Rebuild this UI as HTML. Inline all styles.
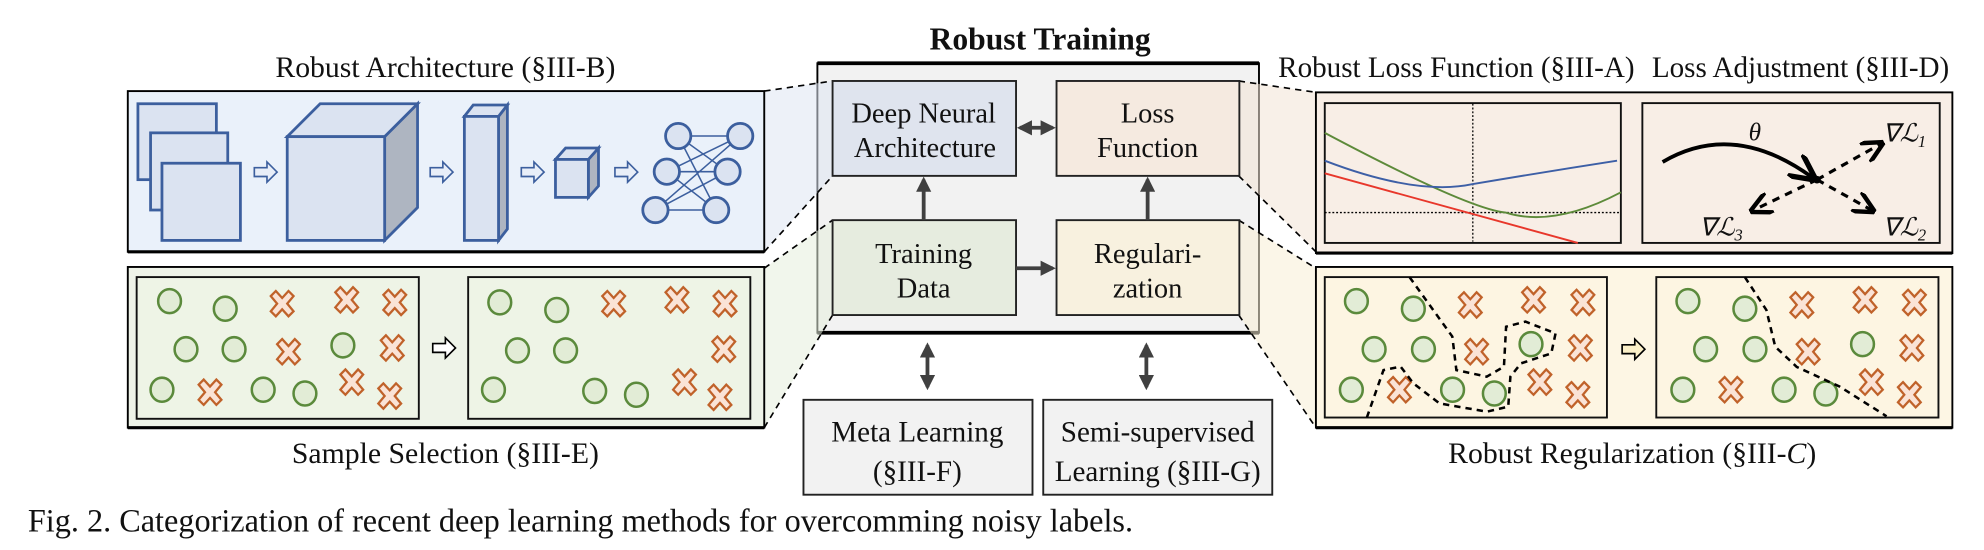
<!DOCTYPE html>
<html><head><meta charset="utf-8"><style>
html,body{margin:0;padding:0;background:#fff;}
svg{display:block;}
text{font-family:"Liberation Serif",serif;fill:#111;}
</style></head><body>
<svg width="1984" height="550" viewBox="0 0 1568 434.7" preserveAspectRatio="none" xmlns="http://www.w3.org/2000/svg">
<defs>
<path id="cr" d="M-9,-6 L-5,-10 L0,-4.5 L5,-10 L9,-6 L4,0 L9,6 L5,10 L0,4.5 L-5,10 L-9,6 L-4,0Z" fill="#fae3d6" stroke="#c0622a" stroke-width="1.8"/>
<ellipse id="ci" rx="9" ry="9.5" fill="#e2ecd6" stroke="#5b8a3c" stroke-width="2"/>
<path id="ar" d="M-9,-3.5 H1 V-8 L9,0 L1,8 V3.5 H-9Z" stroke-width="1.3"/>
<marker id="mh" viewBox="0 0 10 10" refX="8" refY="5" markerWidth="4" markerHeight="4" orient="auto-start-reverse"><path d="M0,0 L10,5 L0,10Z" fill="#404040"/></marker>
<marker id="mk" viewBox="0 0 10 10" refX="8" refY="5" markerWidth="7" markerHeight="7" orient="auto"><path d="M0,0 L10,5 L0,10" fill="none" stroke="#000" stroke-width="2"/></marker>
</defs>

<rect x="646" y="50" width="349" height="213" fill="#f2f2f2" stroke="#000" stroke-width="1.5"/>
<line x1="646" y1="50" x2="995" y2="50" stroke="#000" stroke-width="3"/>
<line x1="646" y1="263" x2="995" y2="263" stroke="#000" stroke-width="3"/>

<polygon points="604,72 658,64 658,139 604,199" fill="#dfe6f3" opacity="0.55"/>
<polygon points="604,212 658,174 658,249 604,338" fill="#e6eedd" opacity="0.55"/>
<polygon points="979,64 1040,73 1040,199 979,139" fill="#f3e3d6" opacity="0.55"/>
<polygon points="979,174 1040,212 1040,338 979,249" fill="#f8efd6" opacity="0.55"/>
<g stroke="#000" stroke-width="1.3" stroke-dasharray="5,4" fill="none">
<line x1="604" y1="72" x2="658" y2="64"/><line x1="604" y1="199" x2="658" y2="139"/>
<line x1="604" y1="212" x2="658" y2="174"/><line x1="604" y1="338" x2="658" y2="249"/>
<line x1="979" y1="64" x2="1040" y2="73"/><line x1="979" y1="139" x2="1040" y2="199"/>
<line x1="979" y1="174" x2="1040" y2="212"/><line x1="979" y1="249" x2="1040" y2="338"/>
</g>

<text x="822" y="39" font-size="25" font-weight="bold" text-anchor="middle">Robust Training</text>

<rect x="658" y="64" width="145" height="75" fill="#dfe4ee" stroke="#222" stroke-width="1.5"/>
<rect x="835" y="64" width="144.5" height="75" fill="#f5eae0" stroke="#222" stroke-width="1.5"/>
<rect x="658" y="174" width="145" height="75" fill="#e6ecdf" stroke="#222" stroke-width="1.5"/>
<rect x="835" y="174" width="144.5" height="75" fill="#f8f1df" stroke="#222" stroke-width="1.5"/>
<g font-size="22.5" text-anchor="middle">
<text x="730" y="97">Deep Neural</text><text x="731" y="124">Architecture</text>
<text x="907" y="97">Loss</text><text x="907" y="124">Function</text>
<text x="730" y="208">Training</text><text x="730" y="235">Data</text>
<text x="907" y="208">Regulari-</text><text x="907" y="235">zation</text>
</g>
<g stroke="#404040" stroke-width="3" fill="none">
<line x1="806" y1="101" x2="832" y2="101" marker-start="url(#mh)" marker-end="url(#mh)"/>
<line x1="730" y1="174" x2="730" y2="142" marker-end="url(#mh)"/>
<line x1="907" y1="174" x2="907" y2="142" marker-end="url(#mh)"/>
<line x1="803" y1="212" x2="832" y2="212" marker-end="url(#mh)"/>
<line x1="733" y1="273" x2="733" y2="306" marker-start="url(#mh)" marker-end="url(#mh)"/>
<line x1="906" y1="273" x2="906" y2="306" marker-start="url(#mh)" marker-end="url(#mh)"/>
</g>

<rect x="635" y="316" width="181" height="75" fill="#f2f2f2" stroke="#222" stroke-width="1.5"/>
<rect x="824.5" y="316" width="181" height="75" fill="#f2f2f2" stroke="#222" stroke-width="1.5"/>
<g font-size="23" text-anchor="middle">
<text x="725" y="349">Meta Learning</text><text x="725" y="380">(§III-F)</text>
<text x="915" y="349">Semi-supervised</text><text x="915" y="380">Learning (§III-G)</text>
</g>

<text x="352" y="61" font-size="23.5" text-anchor="middle">Robust Architecture (§III-B)</text>
<rect x="101" y="72" width="503" height="127" fill="#eaf1fa" stroke="#000" stroke-width="1.5"/>
<line x1="101" y1="199" x2="604" y2="199" stroke="#000" stroke-width="2.5"/>
<g stroke="#3c5f9e" stroke-width="2.2" fill="#dbe3f1">
<rect x="109" y="82" width="62" height="60"/>
<rect x="119" y="105" width="61" height="61"/>
<rect x="128" y="129" width="62" height="61"/>
<polygon points="304,108 330,82 330,164 304,190" fill="#aeb5c1"/>
<polygon points="227,108 253,82 330,82 304,108"/>
<rect x="227" y="108" width="77" height="82"/>
<polygon points="394,92 401,83 401,181 394,190" fill="#aeb5c1"/>
<polygon points="367,92 374,83 401,83 394,92"/>
<rect x="367" y="92" width="27" height="98"/>
<polygon points="465,126 473,117 473,147 465,156" fill="#aeb5c1"/>
<polygon points="439,126 447,117 473,117 465,126"/>
<rect x="439" y="126" width="26" height="30"/>
</g>
<g fill="#e8eef8" stroke="#3c5f9e">
<use href="#ar" x="210" y="136"/><use href="#ar" x="349" y="136"/><use href="#ar" x="421" y="136"/><use href="#ar" x="495" y="136"/>
</g>
<g stroke="#3c5f9e" stroke-width="1.2">
<line x1="536" y1="107.5" x2="585" y2="107.5"/><line x1="536" y1="107.5" x2="575" y2="135.7"/><line x1="536" y1="107.5" x2="566" y2="166"/>
<line x1="527" y1="135.7" x2="585" y2="107.5"/><line x1="527" y1="135.7" x2="575" y2="135.7"/><line x1="527" y1="135.7" x2="566" y2="166"/>
<line x1="518" y1="166" x2="585" y2="107.5"/><line x1="518" y1="166" x2="575" y2="135.7"/><line x1="518" y1="166" x2="566" y2="166"/>
</g>
<g stroke="#3c5f9e" stroke-width="2.2" fill="#dbe3f1">
<ellipse cx="536" cy="107.5" rx="10" ry="10"/><ellipse cx="585" cy="107.5" rx="10" ry="10"/>
<ellipse cx="527" cy="135.7" rx="10" ry="10"/><ellipse cx="575" cy="135.7" rx="10" ry="10"/>
<ellipse cx="518" cy="166" rx="10" ry="10"/><ellipse cx="566" cy="166" rx="10" ry="10"/>
</g>

<rect x="101" y="211" width="503" height="127" fill="#eef3e8" stroke="#000" stroke-width="1.5"/>
<line x1="101" y1="338" x2="604" y2="338" stroke="#000" stroke-width="2.5"/>
<rect x="108" y="219" width="223" height="112" fill="#eef4e6" stroke="#111" stroke-width="1.5"/>
<rect x="370" y="219" width="223" height="112" fill="#eef4e6" stroke="#111" stroke-width="1.5"/>
<use href="#ar" x="351" y="275" fill="#fff" stroke="#000"/>
<use href="#ci" x="134" y="238"/><use href="#ci" x="178" y="244"/><use href="#ci" x="147" y="276"/><use href="#ci" x="185" y="276"/><use href="#ci" x="271" y="273"/><use href="#ci" x="128" y="308"/><use href="#ci" x="208" y="308"/><use href="#ci" x="241" y="311"/>
<use href="#cr" x="223" y="240"/><use href="#cr" x="274" y="237"/><use href="#cr" x="312" y="239"/><use href="#cr" x="228" y="278"/><use href="#cr" x="310" y="275"/><use href="#cr" x="166" y="310"/><use href="#cr" x="278" y="302"/><use href="#cr" x="308" y="313"/>
<use href="#ci" x="395" y="239"/><use href="#ci" x="440" y="245"/><use href="#ci" x="409" y="277"/><use href="#ci" x="447" y="277"/><use href="#ci" x="390" y="308"/><use href="#ci" x="470" y="309"/><use href="#ci" x="503" y="312"/>
<use href="#cr" x="485" y="240"/><use href="#cr" x="535" y="237"/><use href="#cr" x="573" y="240"/><use href="#cr" x="572" y="276"/><use href="#cr" x="541" y="302"/><use href="#cr" x="569" y="314"/>
<text x="352" y="366" font-size="23.5" text-anchor="middle">Sample Selection (§III-E)</text>

<text x="1151" y="61" font-size="23" text-anchor="middle">Robust Loss Function (§III-A)</text>
<text x="1423" y="61" font-size="23" text-anchor="middle">Loss Adjustment (§III-D)</text>
<rect x="1040" y="73" width="503" height="127" fill="#f8eee6" stroke="#000" stroke-width="1.5"/>
<line x1="1040" y1="200" x2="1543" y2="200" stroke="#000" stroke-width="2.5"/>
<rect x="1047" y="81.5" width="234" height="110.5" fill="#f8eee6" stroke="#111" stroke-width="1.5"/>
<rect x="1298" y="81.5" width="235" height="110.5" fill="#f8eee6" stroke="#111" stroke-width="1.5"/>
<g stroke="#000" stroke-width="1" stroke-dasharray="1.5,1.5">
<line x1="1164" y1="82" x2="1164" y2="191"/><line x1="1047" y1="168" x2="1281" y2="168"/>
</g>
<g fill="none" stroke-width="1.5">
<path d="M1047,105 Q1160,165 1190,168 Q1228,180 1281,152" stroke="#5d8a3a"/>
<path d="M1047,127 Q1120,155 1164,145.5 Q1220,136 1278,127" stroke="#3d5fa6"/>
<path d="M1047,137 L1247,192" stroke="#e8372b"/>
</g>
<path d="M1314,128 Q1370,95 1432,140" fill="none" stroke="#000" stroke-width="3" marker-end="url(#mk)"/>
<circle cx="1436" cy="142" r="3" fill="#000"/>
<g stroke="#000" stroke-width="2.5" stroke-dasharray="6,5" fill="none">
<line x1="1436" y1="142" x2="1486" y2="114" marker-end="url(#mk)"/>
<line x1="1436" y1="142" x2="1479" y2="166" marker-end="url(#mk)"/>
<line x1="1436" y1="142" x2="1386" y2="166" marker-end="url(#mk)"/>
</g>
<g font-size="20" font-style="italic">
<text x="1382" y="111">θ</text>
<text x="1488" y="112">∇ℒ<tspan font-size="13" dy="4">1</tspan></text>
<text x="1488" y="186">∇ℒ<tspan font-size="13" dy="4">2</tspan></text>
<text x="1343" y="186">∇ℒ<tspan font-size="13" dy="4">3</tspan></text>
</g>

<rect x="1040" y="211" width="503" height="127" fill="#fdf6e4" stroke="#000" stroke-width="1.5"/>
<line x1="1040" y1="338" x2="1543" y2="338" stroke="#000" stroke-width="2.5"/>
<rect x="1047" y="219" width="223" height="111" fill="#fdf5e2" stroke="#111" stroke-width="1.5"/>
<rect x="1309" y="219" width="223" height="111" fill="#fdf5e2" stroke="#111" stroke-width="1.5"/>
<use href="#ar" x="1291" y="276" fill="#fbf0c8" stroke="#000"/>
<use href="#ci" x="1072" y="238"/><use href="#ci" x="1117" y="244"/><use href="#ci" x="1086" y="276"/><use href="#ci" x="1125" y="276"/><use href="#ci" x="1210" y="272"/><use href="#ci" x="1068" y="308"/><use href="#ci" x="1148" y="308"/><use href="#ci" x="1181" y="311"/>
<use href="#cr" x="1162" y="241"/><use href="#cr" x="1212" y="237"/><use href="#cr" x="1251" y="239"/><use href="#cr" x="1167" y="278"/><use href="#cr" x="1249" y="275"/><use href="#cr" x="1106" y="308"/><use href="#cr" x="1217" y="302"/><use href="#cr" x="1247" y="312"/>
<use href="#ci" x="1334" y="238"/><use href="#ci" x="1379" y="244"/><use href="#ci" x="1348" y="276"/><use href="#ci" x="1387" y="276"/><use href="#ci" x="1472" y="272"/><use href="#ci" x="1330" y="308"/><use href="#ci" x="1410" y="308"/><use href="#ci" x="1443" y="311"/>
<use href="#cr" x="1424" y="241"/><use href="#cr" x="1474" y="237"/><use href="#cr" x="1513" y="239"/><use href="#cr" x="1429" y="278"/><use href="#cr" x="1511" y="275"/><use href="#cr" x="1368" y="308"/><use href="#cr" x="1479" y="302"/><use href="#cr" x="1509" y="312"/>
<g stroke="#000" stroke-width="2" stroke-dasharray="5,4" fill="none">
<path d="M1114,219 L1147.8,266 L1151,292.5 L1175,297.7 L1188.6,289.8 L1190.3,258.2 L1205.6,254.2 L1229.4,263.5 L1226,279.3 L1202,287.2 L1193.7,297.7 L1192,321.4 L1175,325.4 L1137.6,318.8 L1117,303 L1107,289.8 L1093.4,292.5 L1080,330.7"/>
<path d="M1379,219 L1396,245 L1403,274 L1420,290 L1454,305.6 L1491,329"/>
</g>
<text x="1290" y="366" font-size="23.5" text-anchor="middle">Robust Regularization (§III-<tspan font-style="italic">C</tspan>)</text>

<text x="22" y="420" font-size="25.5">Fig. 2.  Categorization of recent deep learning methods for overcomming noisy labels.</text>
</svg>
</body></html>
